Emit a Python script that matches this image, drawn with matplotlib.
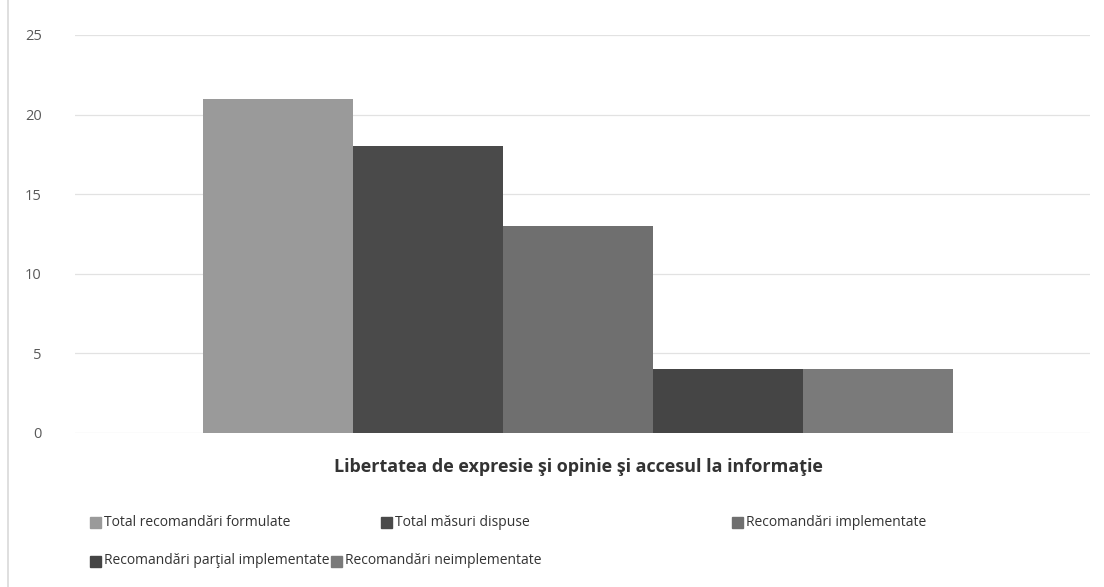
import matplotlib
matplotlib.use("Agg")
import matplotlib.pyplot as plt
from matplotlib.patches import Rectangle
from matplotlib.lines import Line2D

CATEGORY = "Libertatea de expresie şi opinie şi accesul la informaţie"
SERIES = [
    "Total recomandări formulate",
    "Total măsuri dispuse",
    "Recomandări implementate",
    "Recomandări parţial implementate",
    "Recomandări neimplementate",
]
VALUES = [21, 18, 13, 4, 4]
COLORS = ["#9a9a9a", "#4a4a4a", "#6f6f6f", "#454545", "#7a7a7a"]
YTICKS = [0, 5, 10, 15, 20, 25]

TXT = "#595959"
GRID = "#e2e2e2"

plt.rcParams["font.family"] = ["Open Sans", "DejaVu Sans"]

fig = plt.figure(figsize=(11.04, 5.87), dpi=100)
ax = fig.add_axes([0.068, 0.2624, 0.919, 0.678])

w = 150 / 1015
for i, (v, c) in enumerate(zip(VALUES, COLORS)):
    ax.bar((i - 2) * w - 0.004, v, width=w, color=c, zorder=2)

ax.set_xlim(-0.5, 0.5)
ax.set_ylim(0, 25)
ax.set_yticks(YTICKS)
ax.set_yticklabels([str(t) for t in YTICKS], fontsize=10.5, color=TXT)
ax.set_xticks([])
ax.tick_params(axis="y", length=0, pad=24)
ax.grid(axis="y", color=GRID, lw=0.9, zorder=0)
for s in ax.spines.values():
    s.set_visible(False)

fig.text(0.524, 1 - 467 / 587, CATEGORY, ha="center", va="center",
         fontsize=13, weight="bold", color="#333333")

# legend, flowed in two rows like the original
spots = [(90, 522), (381, 522), (732, 522), (90, 561), (331, 561)]
for (px, py), lab, c in zip(spots, SERIES, COLORS):
    fx, fy = px / 1104, 1 - py / 587
    fig.patches.append(Rectangle((fx, fy - 5.5 / 587), 11 / 1104, 11 / 587,
                                 transform=fig.transFigure, color=c))
    fig.text(fx + 14 / 1104, fy, lab, ha="left", va="center",
             fontsize=10, color="#333333")

fig.lines.append(Line2D([8 / 1104, 8 / 1104], [0, 1], transform=fig.transFigure,
                        color="#d9d9d9", lw=1.2))

fig.savefig("out.png", dpi=100, facecolor="white")
